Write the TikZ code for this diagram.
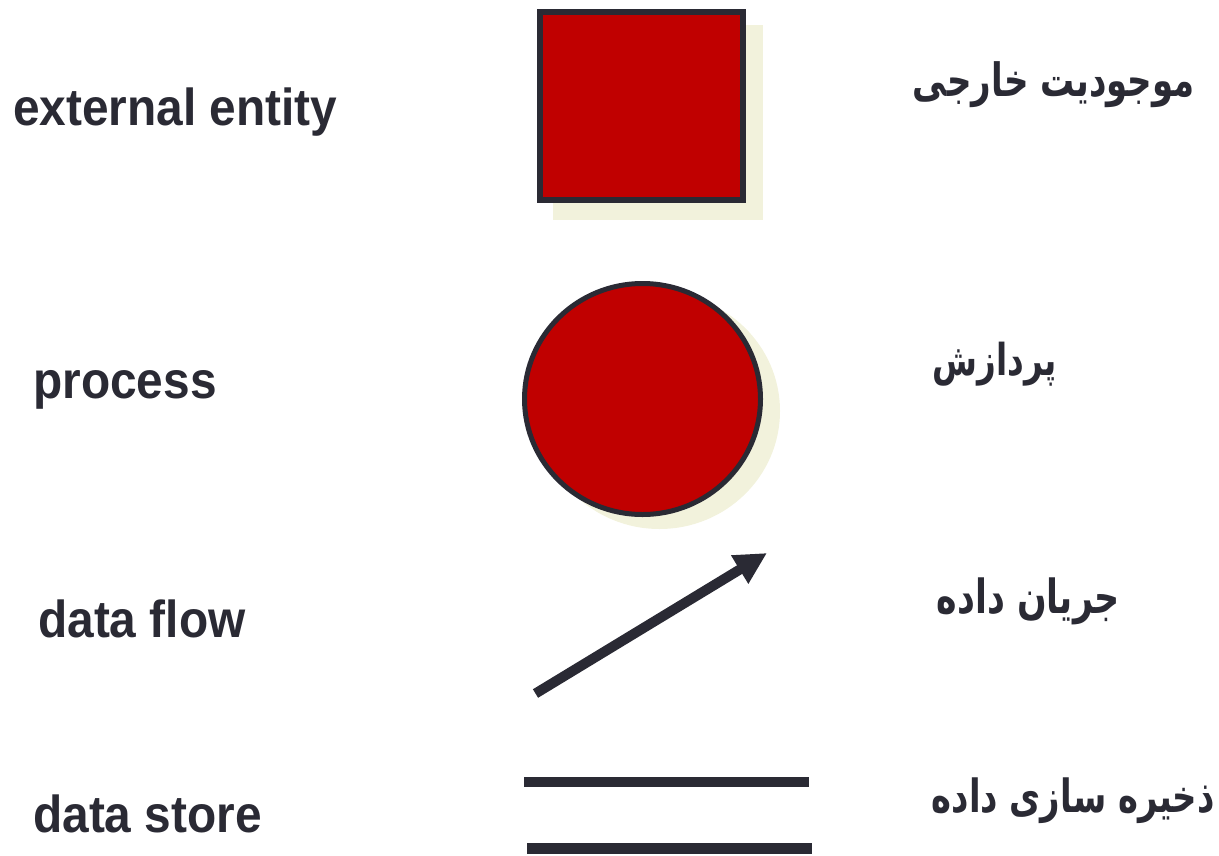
\documentclass[tikz,border=0pt]{standalone}
\usepackage{fontspec}
\usepackage{graphicx}
\usetikzlibrary{shapes.geometric,arrows.meta}
\setmainfont{Liberation Sans}
\newfontfamily\arabicfont[Script=Arabic]{DejaVu Sans}
\TeXXeTstate=1
\definecolor{ink}{RGB}{42,42,52}
\definecolor{redfill}{RGB}{192,0,0}
\definecolor{shadowc}{RGB}{242,242,220}
\tikzset{
  lat/.style={anchor=base west, inner sep=0pt, text=ink, font=\fontsize{52}{60}\selectfont\bfseries},
  fa/.style={anchor=base east, inner sep=0pt, text=ink},
  shapebox/.style={draw=ink, fill=redfill, inner sep=0pt, outer sep=0pt},
  shadowbox/.style={fill=shadowc, draw=none, inner sep=0pt, outer sep=0pt},
  flowline/.style={draw=ink, line width=10pt, -{Triangle[length=32pt,width=31pt]}},
  storeline/.style={draw=ink}
}
\newcommand{\latx}[1]{\scalebox{0.92}[1]{#1}}
\newcommand{\fatext}[2]{\scalebox{1}[1.35]{\resizebox{#1}{!}{\arabicfont\bfseries #2}}}
\begin{document}
\begin{tikzpicture}[x=1pt,y=-1pt]
\useasboundingbox (0,0) rectangle (1219,855);
% left labels
\node[lat] (lee) at (13,125) {\latx{external entity}};
\node[lat] (lpr) at (33,398) {\latx{process}};
\node[lat] (ldf) at (38,637) {\latx{data flow}};
\node[lat] (lds) at (33,832) {\latx{data store}};
% external entity
\node[shadowbox, minimum width=210pt, minimum height=195pt] (sqsh) at (658,122.5) {};
\node[shapebox, line width=6pt, minimum width=203pt, minimum height=188pt] (sq) at (641.5,106) {};
% process
\node[shadowbox, ellipse, minimum width=241pt, minimum height=236pt] (cish) at (659.5,411) {};
\node[shapebox, ellipse, line width=5pt, minimum width=236pt, minimum height=231pt] (ci) at (642.5,399) {};
% data flow
\coordinate (fs) at (535.5,693.5);
\coordinate (fe) at (767,553);
\draw[flowline] (fs) -- (fe);
% data store
\coordinate (s1a) at (524,782);
\coordinate (s1b) at (809,782);
\coordinate (s2a) at (527,848.5);
\coordinate (s2b) at (812,848.5);
\draw[storeline, line width=10pt] (s1a) -- (s1b);
\draw[storeline, line width=11pt] (s2a) -- (s2b);
% right labels
\node[fa] (ree) at (1195,96) {\fatext{282pt}{\beginR موجودیت خارجی\endR}};
\node[fa] (rpr) at (1057,375) {\fatext{124pt}{\beginR پردازش\endR}};
\node[fa] (rdf) at (1120,613) {\fatext{183pt}{\beginR جریان داده\endR}};
\node[fa] (rds) at (1215,812) {\fatext{283pt}{\beginR ذخیره سازی داده\endR}};
\end{tikzpicture}
\end{document}
